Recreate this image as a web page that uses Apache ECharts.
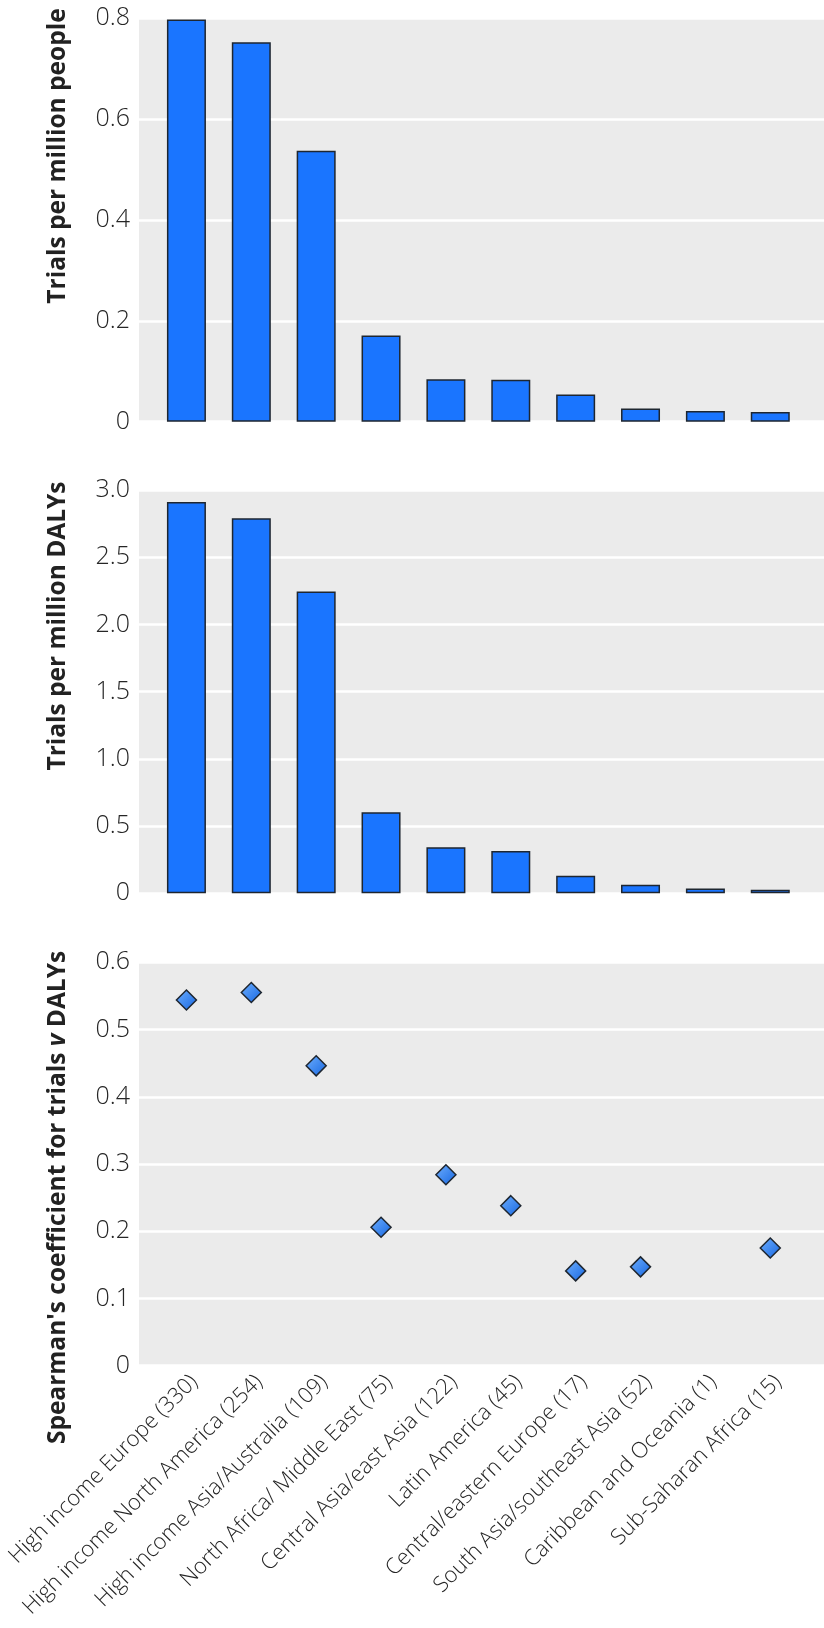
<!DOCTYPE html>
<html>
<head>
<meta charset="utf-8">
<script src="https://cdn.jsdelivr.net/npm/echarts@6/dist/echarts.min.js"></script>
<style>
html,body{margin:0;padding:0;background:#fff;}
#chart{width:824px;height:1628px;}
</style>
</head>
<body>
<div id="chart"></div>
<script>
// ---- data ----
const categories = [
  'High income Europe (330)',
  'High income North America (254)',
  'High income Asia/Australia (109)',
  'North Africa/ Middle East (75)',
  'Central Asia/east Asia (122)',
  'Latin America (45)',
  'Central/eastern Europe (17)',
  'South Asia/southeast Asia (52)',
  'Caribbean and Oceania (1)',
  'Sub-Saharan Africa (15)'
];
const trialsPerMillionPeople = [0.797, 0.752, 0.537, 0.171, 0.084, 0.083, 0.054, 0.026, 0.021, 0.019];
const trialsPerMillionDalys = [2.91, 2.79, 2.245, 0.603, 0.342, 0.315, 0.131, 0.064, 0.035, 0.027];
const spearmanCoef = [0.544, 0.555, 0.446, 0.206, 0.284, 0.238, 0.141, 0.147, null, 0.175];

const ticksPeople = ['0', '0.2', '0.4', '0.6', '0.8'];
const ticksDalys = ['0', '0.5', '1.0', '1.5', '2.0', '2.5', '3.0'];
const ticksSpearman = ['0', '0.1', '0.2', '0.3', '0.4', '0.5', '0.6'];

const titlePeople = 'Trials per million people';
const titleDalys = 'Trials per million DALYs';

// ---- styling ----
const FONT = '"Open Sans", "Noto Sans", sans-serif';
const LABEL_COLOR = '#262626';
const BG = '#ebebeb';
const BAR_COLOR = '#1a75ff';
const EDGE = '#1e2630';

const panels = [
  { top: 18, height: 403.7, max: 0.8, interval: 0.2, ticks: ticksPeople },
  { top: 490, height: 403.3, max: 3.0, interval: 0.5, ticks: ticksDalys },
  { top: 962.3, height: 403.4, max: 0.6, interval: 0.1, ticks: ticksSpearman }
];

const grid = [], xAxis = [], yAxis = [], series = [];
panels.forEach((p, k) => {
  // background grid (gray panel + white gridlines + tick labels)
  grid.push({ left: 139, right: 0, top: p.top, height: p.height, show: true, backgroundColor: BG, borderWidth: 0 });
  // data grid (category band inset inside the panel)
  grid.push({ left: 154, right: 21.3, top: p.top, height: p.height, show: false });
  const bg = 2 * k, dg = 2 * k + 1;
  xAxis.push({ gridIndex: bg, type: 'value', min: 0, max: 1, show: false });
  xAxis.push({
    gridIndex: dg, type: 'category', data: categories,
    axisLine: { show: false }, axisTick: { show: false },
    axisLabel: k === 2 ? {
      show: true, interval: 0, rotate: 45, margin: 5,
      align: 'right', verticalAlign: 'top',
      fontFamily: FONT, fontWeight: 300, fontSize: 22, color: LABEL_COLOR
    } : { show: false }
  });
  yAxis.push({
    gridIndex: bg, type: 'value', min: 0, max: p.max, interval: p.interval,
    axisLine: { show: false }, axisTick: { show: false },
    splitLine: { show: true, lineStyle: { color: '#ffffff', width: 2.5 } },
    axisLabel: {
      margin: 9, fontFamily: FONT, fontWeight: 300, fontSize: 25, color: LABEL_COLOR,
      formatter: (v) => p.ticks[Math.round(v / p.interval)]
    }
  });
  yAxis.push({ gridIndex: dg, type: 'value', min: 0, max: p.max, show: false });
});

series.push({
  type: 'bar', xAxisIndex: 1, yAxisIndex: 1, data: trialsPerMillionPeople,
  barWidth: 39, itemStyle: { color: BAR_COLOR, borderColor: EDGE, borderWidth: 1.5 }, silent: true
});
series.push({
  type: 'bar', xAxisIndex: 3, yAxisIndex: 3, data: trialsPerMillionDalys,
  barWidth: 39, itemStyle: { color: BAR_COLOR, borderColor: EDGE, borderWidth: 1.5 }, silent: true
});
series.push({
  type: 'scatter', xAxisIndex: 5, yAxisIndex: 5, data: spearmanCoef,
  symbol: 'diamond', symbolSize: 20,
  itemStyle: {
    color: new echarts.graphic.LinearGradient(0, 0, 1, 1, [
      { offset: 0, color: '#6fb0ff' },
      { offset: 1, color: '#1565e0' }
    ]),
    borderColor: EDGE, borderWidth: 1.5, opacity: 1
  },
  silent: true
});

const titleFont = 'bold 24.5px ' + FONT;
const graphic = [
  { type: 'text', x: 58, y: 156, rotation: Math.PI / 2,
    style: { text: titlePeople, font: titleFont, fill: '#222', align: 'center', verticalAlign: 'middle' } },
  { type: 'text', x: 58, y: 626, rotation: Math.PI / 2,
    style: { text: titleDalys, font: titleFont, fill: '#222', align: 'center', verticalAlign: 'middle' } },
  { type: 'text', x: 58, y: 1197.5, rotation: Math.PI / 2,
    style: {
      text: "{b|Spearman's coefficient for trials }{i|v}{b| DALYs}",
      align: 'center', verticalAlign: 'middle',
      rich: {
        b: { fontFamily: FONT, fontWeight: 'bold', fontSize: 24.5, fill: '#222', color: '#222' },
        i: { fontFamily: FONT, fontWeight: 'bold', fontStyle: 'italic', fontSize: 24.5, fill: '#222', color: '#222' }
      }
    } }
];

const chart = echarts.init(document.getElementById('chart'), null, { renderer: 'canvas' });
chart.setOption({ animation: false, grid, xAxis, yAxis, series, graphic });
</script>
</body>
</html>
